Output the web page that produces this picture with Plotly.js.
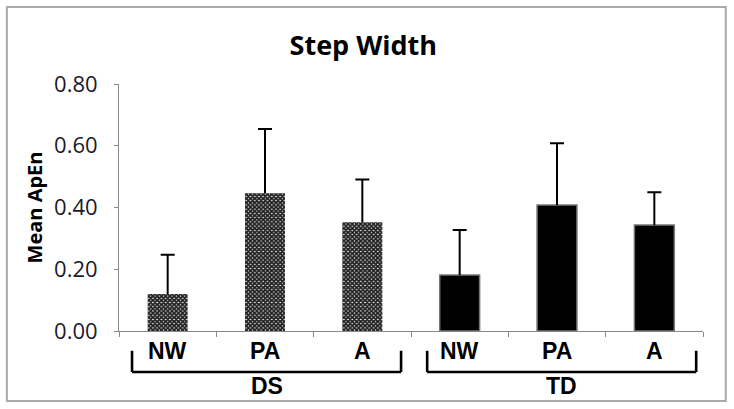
<!DOCTYPE html>
<html>
<head>
<meta charset="utf-8">
<script src="https://cdn.plot.ly/plotly-3.0.1.min.js"></script>
<style>html,body{margin:0;padding:0;background:#fff;}#chart{width:734px;height:409px;}</style>
</head>
<body>
<div id="chart"></div>
<script>
// ---- data ----
var conditions = ['NW', 'PA', 'A'];
var groups = ['DS', 'TD'];
var dsMeans = [0.12, 0.446, 0.352];
var dsErrors = [0.127, 0.208, 0.139];
var tdMeans = [0.181, 0.408, 0.343];
var tdErrors = [0.146, 0.200, 0.106];
var yTickVals = [0, 0.2, 0.4, 0.6, 0.8];
var yTickText = ['0.00', '0.20', '0.40', '0.60', '0.80'];
var chartTitle = 'Step Width';
var yTitle = 'Mean ApEn';

var n = conditions.length;
var dsX = conditions.map(function (c, i) { return i; });
var tdX = conditions.map(function (c, i) { return n + i; });
function zeros(a) { return a.map(function () { return 0; }); }
function tops(m, e) { return m.map(function (v, i) { return v + e[i]; }); }
var barW = 0.41;

function stem(err) {
  // vertical whisker from the bar top upward, without cross-bars
  return { type: 'data', symmetric: false, array: err, arrayminus: zeros(err), color: '#000', thickness: 2, width: 0 };
}
function capTrace(xs, means, errs) {
  // cap drawn at the top end of the whisker
  return {
    type: 'scatter', mode: 'markers', x: xs, y: tops(means, errs),
    marker: { size: 1, opacity: 0 },
    error_y: { type: 'data', symmetric: true, array: zeros(errs), color: '#000', thickness: 2, width: 7 },
    hoverinfo: 'skip', showlegend: false
  };
}

var traces = [
  {
    type: 'bar', x: dsX, y: dsMeans, width: barW, name: groups[0],
    marker: {
      color: '#ffffff',
      pattern: { shape: 'x', size: 3, solidity: 0.85, fgcolor: '#222222', bgcolor: '#ffffff', fillmode: 'replace' },
      line: { width: 0 }
    },
    error_y: stem(dsErrors),
    hoverinfo: 'y'
  },
  {
    type: 'bar', x: tdX, y: tdMeans, width: barW, name: groups[1],
    marker: { color: '#000000', line: { color: '#777777', width: 1.5 } },
    error_y: stem(tdErrors),
    hoverinfo: 'y'
  },
  capTrace(dsX, dsMeans, dsErrors),
  capTrace(tdX, tdMeans, tdErrors)
];

// boundaries between categories for tick marks
var total = n * groups.length;
var bounds = [];
for (var b = 0; b <= total; b++) bounds.push(b - 0.5);

var annotations = [];
var shapes = [];
var labelFont = { family: 'Liberation Sans, Arial, sans-serif', size: 23, color: '#000', weight: 'bold' };
groups.forEach(function (g, gi) {
  conditions.forEach(function (c, ci) {
    annotations.push({ x: gi * n + ci, y: -0.081, xref: 'x', yref: 'paper', text: '<b>' + c + '</b>',
      showarrow: false, font: labelFont, xanchor: 'center', yanchor: 'middle' });
  });
  var x0 = gi * n - 0.5 + (gi === 0 ? 0.134 : 0.166);
  var x1 = gi * n + n - 0.5 - (gi === 0 ? 0.102 : 0.07);
  var lineStyle = { color: '#000', width: 2.6 };
  shapes.push({ type: 'line', xref: 'x', yref: 'paper', x0: x0, x1: x0, y0: -0.08, y1: -0.166, line: lineStyle });
  shapes.push({ type: 'line', xref: 'x', yref: 'paper', x0: x1, x1: x1, y0: -0.08, y1: -0.166, line: lineStyle });
  shapes.push({ type: 'line', xref: 'x', yref: 'paper', x0: x0, x1: x1, y0: -0.166, y1: -0.166, line: lineStyle });
  annotations.push({ x: (x0 + x1) / 2, y: -0.223, xref: 'x', yref: 'paper', text: '<b>' + g + '</b>',
    showarrow: false, font: labelFont, xanchor: 'center', yanchor: 'middle' });
});

// outer chart border
shapes.push({ type: 'rect', xref: 'paper', yref: 'paper', x0: -0.192, x1: 1.039, y0: -0.283, y1: 1.312,
  line: { color: '#aaaaaa', width: 2 }, fillcolor: 'rgba(0,0,0,0)' });

var layout = {
  width: 734, height: 409,
  margin: { l: 119, r: 31, t: 84, b: 78, pad: 0 },
  paper_bgcolor: '#ffffff', plot_bgcolor: '#ffffff',
  showlegend: false,
  barmode: 'overlay',
  title: { text: '<b>' + chartTitle + '</b>', x: 0.495, xref: 'container', xanchor: 'center', y: 0.888, yref: 'container', yanchor: 'middle',
    font: { family: 'Open Sans, sans-serif', size: 27, color: '#000' } },
  xaxis: {
    range: [-0.5, total - 0.5], tickmode: 'array', tickvals: bounds, ticktext: bounds.map(function () { return ''; }),
    ticks: 'outside', ticklen: 5, tickcolor: '#888', tickwidth: 1,
    showline: true, linecolor: '#888', linewidth: 1, showgrid: false, zeroline: false, fixedrange: true
  },
  yaxis: {
    range: [0, 0.8], tickmode: 'array', tickvals: yTickVals, ticktext: yTickText,
    ticks: 'outside', ticklen: 4, tickcolor: '#888', tickwidth: 1,
    showline: true, linecolor: '#888', linewidth: 1, showgrid: false, zeroline: false,
    tickfont: { family: 'Open Sans, sans-serif', size: 22, color: '#1a1a2a' },
    ticklabelstandoff: 12,
    title: { text: '<b>' + yTitle + '</b>', font: { family: 'Open Sans, sans-serif', size: 20, color: '#000' }, standoff: 6 },
    fixedrange: true
  },
  annotations: annotations,
  shapes: shapes
};

Plotly.newPlot('chart', traces, layout, { displayModeBar: false, staticPlot: true });
</script>
</body>
</html>
